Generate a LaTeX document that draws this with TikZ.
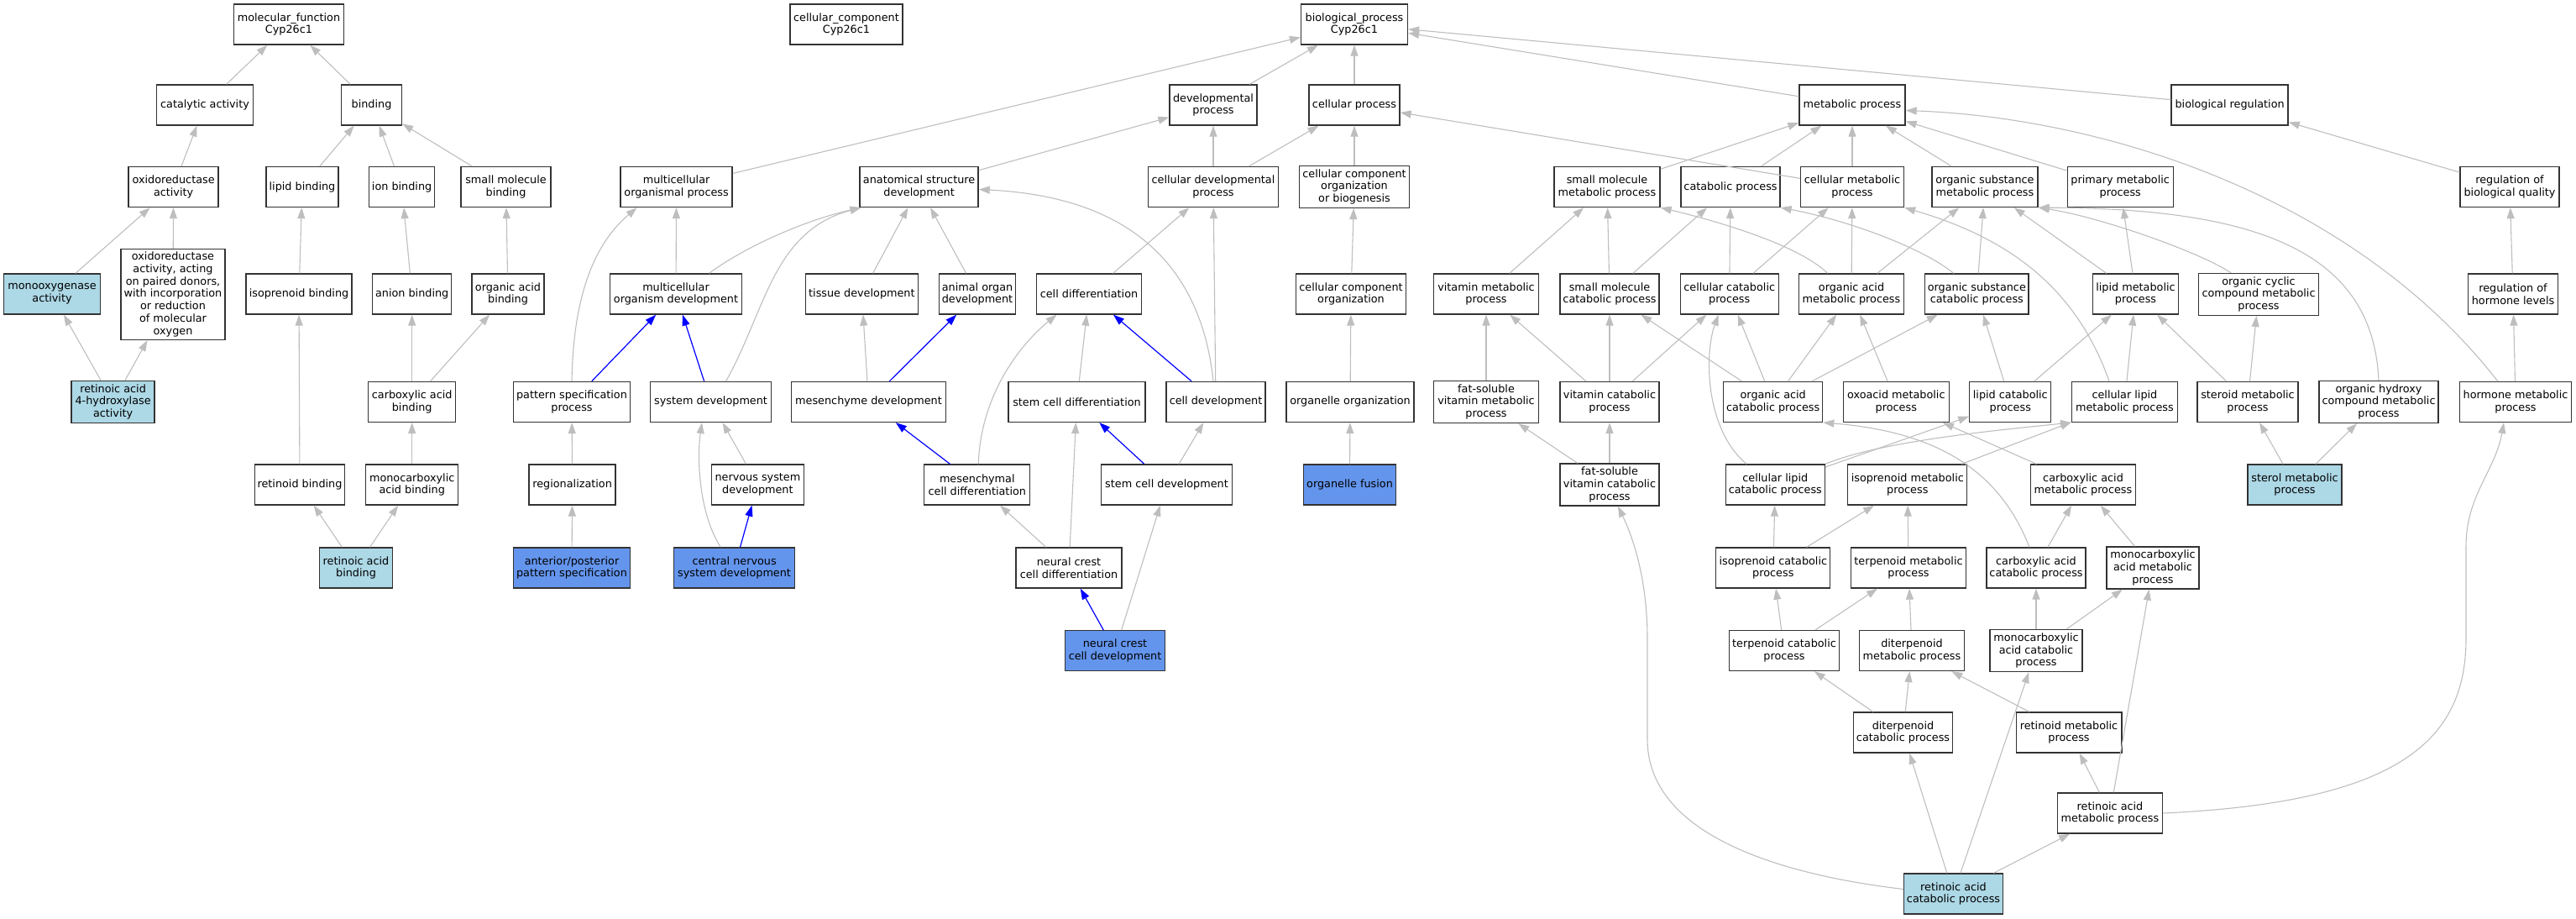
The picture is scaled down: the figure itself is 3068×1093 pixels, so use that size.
\documentclass[tikz,border=0pt]{standalone}
\usepackage{fontspec}
\setmainfont{DejaVu Sans}
\usetikzlibrary{arrows.meta}
\definecolor{edgegray}{RGB}{190,190,190}
\definecolor{lblue}{RGB}{173,216,230}
\definecolor{cblue}{RGB}{100,149,237}
\definecolor{eblue}{RGB}{0,0,255}
\begin{document}
\begin{tikzpicture}[x=1pt,y=-1pt,
  box/.style={draw=black!80, line width=1.3pt, fill=white, minimum height=48pt,
    inner xsep=3pt, inner ysep=2pt, align=center, font=\fontsize{12.8}{14.7}\selectfont},
  lb/.style={fill=lblue},
  cb/.style={fill=cblue},
  gedge/.style={draw=edgegray, line width=1.1pt, -{Triangle[length=13pt,width=9pt]}},
  bedge/.style={draw=eblue, line width=1.2pt, -{Triangle[length=13pt,width=9pt]}}]
\useasboundingbox (0,0) rectangle (3068,1093);
% ---------- molecular function ----------
\node[box, minimum width=131pt] (mf) at (344,29) {molecular\_function\\Cyp26c1};
\node[box, minimum width=115pt] (cat) at (244,125) {catalytic activity};
\node[box, minimum width=72pt] (bind) at (442.5,125) {binding};
\node[box, minimum width=107pt] (oxr) at (206.6,222.5) {oxidoreductase\\activity};
\node[box, minimum width=86pt] (lipb) at (360,222.5) {lipid binding};
\node[box, minimum width=78pt] (ionb) at (478.6,222.5) {ion binding};
\node[box, minimum width=107pt] (smb) at (602.5,222.5) {small molecule\\binding};
\node[box, lb, minimum width=114.5pt] (mono) at (62,350) {monooxygenase\\activity};
\node[box, minimum width=124pt, minimum height=108pt] (oxrp) at (206,350.4) {oxidoreductase\\activity, acting\\on paired donors,\\with incorporation\\or reduction\\of molecular\\oxygen};
\node[box, minimum width=126pt] (isob) at (356,350) {isoprenoid binding};
\node[box, minimum width=94pt] (anb) at (490.7,350) {anion binding};
\node[box, minimum width=86pt] (oab) at (605,350) {organic acid\\binding};
\node[box, lb, minimum width=99pt, minimum height=50pt] (ra4h) at (134.6,478.4) {retinoic acid\\4-hydroxylase\\activity};
\node[box, minimum width=104pt] (cab) at (490.7,478.4) {carboxylic acid\\binding};
\node[box, minimum width=107.5pt] (retb) at (357,577) {retinoid binding};
\node[box, minimum width=110pt] (mcab) at (490.7,577) {monocarboxylic\\acid binding};
\node[box, lb, minimum width=86.4pt] (rab) at (424,676) {retinoic acid\\binding};
% ---------- cellular component ----------
\node[box, minimum width=134pt] (cc) at (1008,29) {cellular\_component\\Cyp26c1};
% ---------- biological process ----------
\node[box, minimum width=127pt] (bp) at (1613,29) {biological\_process\\Cyp26c1};
\node[box, minimum width=104pt] (dev) at (1445,125) {developmental\\process};
\node[box, minimum width=108pt] (cp) at (1613,125) {cellular process};
\node[box, minimum width=126pt] (mp) at (2206,125) {metabolic process};
\node[box, minimum width=139pt] (breg) at (2655.6,125) {biological regulation};
\node[box, minimum width=133pt] (mop) at (805.6,222.5) {multicellular\\organismal process};
\node[box, minimum width=141pt] (asd) at (1094.6,222.5) {anatomical structure\\development};
\node[box, minimum width=155pt] (cdp) at (1445,222.5) {cellular developmental\\process};
\node[box, minimum width=131pt, minimum height=50pt] (ccob) at (1613,222.4) {cellular component\\organization\\or biogenesis};
\node[box, minimum width=126pt] (smmp) at (1914,222.5) {small molecule\\metabolic process};
\node[box, minimum width=118pt] (catp) at (2061,222.5) {catabolic process};
\node[box, minimum width=123pt] (cmp) at (2206,222.5) {cellular metabolic\\process};
\node[box, minimum width=126pt] (osmp) at (2364,222.5) {organic substance\\metabolic process};
\node[box, minimum width=126pt] (pmp) at (2525.2,222.5) {primary metabolic\\process};
\node[box, minimum width=118pt] (rbq) at (2989,222.5) {regulation of\\biological quality};
\node[box, minimum width=157pt] (mod) at (805,350) {multicellular\\organism development};
\node[box, minimum width=134pt] (tis) at (1026.4,350) {tissue development};
\node[box, minimum width=91pt] (aod) at (1164,350) {animal organ\\development};
\node[box, minimum width=125pt] (cdiff) at (1297,350) {cell differentiation};
\node[box, minimum width=131pt] (cco) at (1609,350) {cellular component\\organization};
\node[box, minimum width=125pt] (vmp) at (1770,350) {vitamin metabolic\\process};
\node[box, minimum width=118pt] (smcp) at (1917,350) {small molecule\\catabolic process};
\node[box, minimum width=117pt] (ccp) at (2059.7,350) {cellular catabolic\\process};
\node[box, minimum width=125pt] (oamp) at (2205,350) {organic acid\\metabolic process};
\node[box, minimum width=123pt] (oscp) at (2354.3,350) {organic substance\\catabolic process};
\node[box, minimum width=102pt] (lmp) at (2543.5,350) {lipid metabolic\\process};
\node[box, minimum width=142.4pt, minimum height=50pt] (occmp) at (2690,350.4) {organic cyclic\\compound metabolic\\process};
\node[box, minimum width=107pt] (rhl) at (2993,350) {regulation of\\hormone levels};
\node[box, minimum width=139pt] (psp) at (681,478.4) {pattern specification\\process};
\node[box, minimum width=144pt] (sysd) at (846.6,478.4) {system development};
\node[box, minimum width=184pt] (mesd) at (1034.5,478.4) {mesenchyme development};
\node[box, minimum width=163pt] (scdiff) at (1282.5,478.4) {stem cell differentiation};
\node[box, minimum width=118pt] (celld) at (1448,478.4) {cell development};
\node[box, minimum width=152pt] (oorg) at (1608,478.4) {organelle organization};
\node[box, minimum width=125pt, minimum height=50pt] (fsvmp) at (1770,478.4) {fat-soluble\\vitamin metabolic\\process};
\node[box, minimum width=118pt] (vcp) at (1917,478.4) {vitamin catabolic\\process};
\node[box, minimum width=118pt] (oacp) at (2111.7,478.4) {organic acid\\catabolic process};
\node[box, minimum width=126pt] (oxmp) at (2258.3,478.4) {oxoacid metabolic\\process};
\node[box, minimum width=97pt] (lcp) at (2394.3,478.4) {lipid catabolic\\process};
\node[box, minimum width=125.6pt] (clmp) at (2530.4,478.4) {cellular lipid\\metabolic process};
\node[box, minimum width=120pt] (stmp) at (2677,478.4) {steroid metabolic\\process};
\node[box, minimum width=142pt, minimum height=50pt] (ohcmp) at (2833,478.4) {organic hydroxy\\compound metabolic\\process};
\node[box, minimum width=133.5pt] (hmp) at (2996,478.4) {hormone metabolic\\process};
\node[box, minimum width=103pt] (reg) at (681.6,577) {regionalization};
\node[box, minimum width=110pt] (nsd) at (902.4,577) {nervous system\\development};
\node[box, minimum width=126pt] (mcd) at (1163.8,577) {mesenchymal\\cell differentiation};
\node[box, minimum width=156pt] (scd) at (1389.5,577) {stem cell development};
\node[box, cb, minimum width=110.5pt] (ofus) at (1607.5,577) {organelle fusion};
\node[box, minimum width=118pt, minimum height=50pt] (fsvcp) at (1917,577) {fat-soluble\\vitamin catabolic\\process};
\node[box, minimum width=118pt] (clcp) at (2114.3,577) {cellular lipid\\catabolic process};
\node[box, minimum width=142pt] (isomp) at (2271.8,577) {isoprenoid metabolic\\process};
\node[box, minimum width=125.5pt] (camp) at (2481,577) {carboxylic acid\\metabolic process};
\node[box, lb, minimum width=112pt] (sterol) at (2733,577) {sterol metabolic\\process};
\node[box, cb, minimum width=139pt] (ap) at (681,676) {anterior/posterior\\pattern specification};
\node[box, cb, minimum width=144pt] (cnsd) at (874.6,676) {central nervous\\system development};
\node[box, minimum width=126pt] (ncdiff) at (1273,676) {neural crest\\cell differentiation};
\node[box, minimum width=136pt] (isocp) at (2111.8,676) {isoprenoid catabolic\\process};
\node[box, minimum width=137pt] (terpmp) at (2273,676) {terpenoid metabolic\\process};
\node[box, minimum width=118pt] (cacp) at (2425,676) {carboxylic acid\\catabolic process};
\node[box, minimum width=110pt, minimum height=50pt] (mcamp) at (2564,676) {monocarboxylic\\acid metabolic\\process};
\node[box, cb, minimum width=118.4pt] (ncd) at (1328,774.7) {neural crest\\cell development};
\node[box, minimum width=131pt] (terpcp) at (2125,774.5) {terpenoid catabolic\\process};
\node[box, minimum width=125pt] (dtmp) at (2277,774.5) {diterpenoid\\metabolic process};
\node[box, minimum width=110pt, minimum height=50pt] (mcacp) at (2425,774.6) {monocarboxylic\\acid catabolic\\process};
\node[box, minimum width=118pt] (dtcp) at (2266.5,872) {diterpenoid\\catabolic process};
\node[box, minimum width=125.7pt] (retmp) at (2464,872) {retinoid metabolic\\process};
\node[box, minimum width=125.5pt] (ramp) at (2513,968) {retinoic acid\\metabolic process};
\node[box, lb, minimum width=117.6pt] (racp) at (2326.5,1064) {retinoic acid\\catabolic process};
% ---------- edges: molecular function ----------
\foreach \a/\b in {cat/mf, bind/mf, oxr/cat, lipb/bind, ionb/bind, smb/bind, mono/oxr, oxrp/oxr,
  isob/lipb, anb/ionb, oab/smb, ra4h/mono, ra4h/oxrp, retb/isob, cab/anb, cab/oab, mcab/cab,
  rab/retb, rab/mcab}
  \draw[gedge] (\a) -- (\b);
% ---------- edges: biological process (straight) ----------
\foreach \a/\b in {mop/bp, dev/bp, cp/bp, mp/bp, breg/bp, asd/dev, cdp/dev, cdp/cp, ccob/cp, cmp/cp,
  smmp/mp, catp/mp, cmp/mp, osmp/mp, pmp/mp, rbq/breg, rhl/rbq, hmp/rhl,
  mod/mop, tis/asd, aod/asd, cdiff/cdp, celld/cdp, cco/ccob, oorg/cco, ofus/oorg,
  vmp/smmp, smcp/smmp, smcp/catp, ccp/catp, ccp/cmp, oamp/cmp, oamp/osmp, oscp/osmp,
  lmp/osmp, lmp/pmp, clmp/lmp, lcp/oscp, lcp/lmp, stmp/lmp, stmp/occmp, sterol/stmp, sterol/ohcmp,
  reg/psp, ap/reg, nsd/sysd, mesd/tis, scdiff/cdiff, ncdiff/mcd, ncdiff/scdiff, scd/celld, ncd/scd,
  fsvmp/vmp, vcp/vmp, vcp/smcp, vcp/ccp, oacp/smcp, oacp/ccp, oacp/oamp, oacp/oscp, oxmp/oamp,
  fsvcp/fsvmp, fsvcp/vcp, clcp/lcp, isomp/clmp, camp/oxmp, cacp/camp, mcamp/camp, mcacp/cacp,
  mcacp/mcamp, isocp/clcp, isocp/isomp, terpmp/isomp, terpcp/isocp, terpcp/terpmp, dtmp/terpmp,
  dtcp/terpcp, dtcp/dtmp, retmp/dtmp, ramp/retmp, ramp/mcamp, racp/ramp, racp/mcacp, racp/dtcp}
  \draw[gedge] (\a) -- (\b);
% ---------- curved edges ----------
\draw[gedge] (psp.north) .. controls (683,330) and (720,280) .. ([xshift=-47pt]mop.south);
\draw[gedge] ([xshift=39.5pt]mod.north) .. controls (890,292) and (960,262) .. ([xshift=2pt]asd.south west);
\draw[gedge] ([xshift=18pt]sysd.north) .. controls (912,370) and (920,275) .. ([xshift=2pt]asd.south west);
\draw[gedge] ([xshift=-3pt]celld.north) .. controls (1432,330) and (1360,235) .. ([yshift=-3pt]asd.east);
\draw[gedge] ([xshift=1.4pt]mcd.north) .. controls (1168,470) and (1215,410) .. ([xshift=-38.5pt]cdiff.south);
\draw[gedge] ([xshift=-16.4pt]cnsd.north) .. controls (832,610) and (830,545) .. ([xshift=-10.6pt]sysd.south);
\draw[gedge] ([xshift=-28.3pt]oamp.north) .. controls (2140,290) and (2040,262) .. (smmp.south east);
\draw[gedge] ([xshift=-27.6pt]oscp.north) .. controls (2290,295) and (2200,262) .. (catp.south east);
\draw[gedge] ([xshift=-34.3pt]clcp.north) .. controls (2030,510) and (2030,420) .. ([xshift=-13pt]ccp.south);
\draw[gedge] ([xshift=-8pt]cacp.north) .. controls (2385,570) and (2320,515) .. (oacp.south east);
\draw[gedge] (clcp.north east) .. controls (2240,525) and (2380,512) .. (clmp.south west);
\draw[gedge] ([xshift=-18.4pt]clmp.north) .. controls (2472,341) and (2391,283) .. (cmp.south east);
\draw[gedge] ([xshift=-33pt]occmp.north) .. controls (2620,300) and (2500,258) .. (osmp.south east);
\draw[gedge] (ohcmp.north) .. controls (2826,300) and (2690,248) .. (osmp.south east);
\draw[gedge] ([xshift=-21.3pt]hmp.north) .. controls (2800,230) and (2500,140) .. ([yshift=-6.5pt]mp.east);
\draw[gedge] (ramp.east) .. controls (2860,955) and (2937,880) .. (2937,760) -- (2937,650)
  .. controls (2937,590) and (2972,560) .. ([xshift=-14pt]hmp.south);
\draw[gedge] ([yshift=5.5pt]racp.west) .. controls (2110,1040) and (1962,990) .. (1962,880) -- (1962,760)
  .. controls (1962,690) and (1945,640) .. ([xshift=10pt]fsvcp.south);
% ---------- blue edges ----------
\foreach \a/\b in {psp/mod, sysd/mod, mesd/aod, celld/cdiff, mcd/mesd, scd/scdiff, cnsd/nsd, ncd/ncdiff}
  \draw[bedge] (\a) -- (\b);
\end{tikzpicture}
\end{document}
